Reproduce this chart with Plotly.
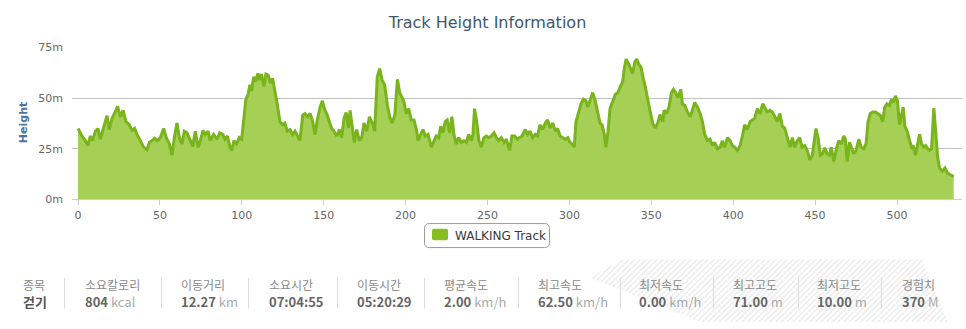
import plotly.graph_objects as go

W, H = 966, 329

# ---- elevation profile (track position vs. height in metres) ----
track_x = [
    0, 2.4, 4.5, 6.1, 7.5, 9, 10.6, 12.2, 13.6, 15.7, 17.7, 19.1, 20.8, 22.2, 24.2, 25.8,
    27.5, 29.3, 31.3, 33, 34.6, 36, 38, 40.1, 42.1, 43.6, 45.2, 46.8, 48.4, 50.3, 52.3,
    53.9, 55.8, 57.4, 58.8, 60.4, 61.9, 63.5, 64.9, 66.5, 68.6, 70, 71.6, 73.3, 74.7,
    76.3, 77.7, 79.4, 80.8, 82.8, 84.9, 86.5,
    88.3, 89.7, 91.2, 92.8, 93.8, 95.2, 96.8, 98.5, 99.9, 101.3, 102.5, 103.9, 104.9,
    105.9, 107.3, 108.5, 109.8, 111, 112, 113.5, 114.7, 116.1, 117.5, 118.8, 120.2,
    121.6, 123.3, 124.9, 126.3, 127.8, 129.4, 131, 132.5, 133.9, 135.5, 137.2, 138.6,
    140, 141.7, 143.3, 144.7, 146.1, 147.8, 149.2, 150.4, 151.8, 153.5, 154.9, 156.3,
    158, 159.6, 161, 162.4, 163.7, 165.1, 166.1, 167.5, 168.7, 170.1, 171.8, 173.2,
    174.6, 176.3, 177.9,
    180.1, 181.1, 182.7, 184.2, 185.6, 187.2, 188.9, 190.3, 191.7, 193.4, 195, 196.4,
    197.4, 198.8, 200.4, 201.9, 203.5, 205.1, 206.6, 207.6, 209.2, 210.6, 212, 213.7,
    215.7, 217.3, 218.7, 220.2, 221.4, 222.8, 224.2, 225.4, 226.9, 228.3, 229.5, 230.9,
    232.4, 234, 235.6, 237.1, 238.5, 240.1, 241.1, 242.1, 243.4, 244.8, 246.2, 247.8,
    249.3, 250.7, 252.4, 254, 255.4, 256.8, 258.4, 260.1, 261.5, 263.5, 264.9, 266.6,
    268.2,
    269.4, 271.1, 273.1, 274.5, 275.9, 277.6, 279.2, 280.6, 282, 283.7, 285.3, 286.7,
    288.2, 289.8, 291.4, 292.8, 294.3, 295.9, 297.5, 299, 300.4, 301.6, 303, 304, 305.7,
    307.1, 308.5, 310.1, 311.2, 312.6, 314.2, 315.8, 317.3, 318.7, 319.9, 321.3, 322.3,
    323.6, 324.8, 326.4, 328.1, 329.5, 330.9, 332.5, 333.5, 334.6, 336.2, 337.6, 338.6,
    339.9, 341.1, 342.3, 343.7, 345.1, 346.3, 347.8, 349.2, 350.8, 352.5, 353.9, 355.3,
    357,
    357.8, 359.4, 360.8, 362.3, 363.5, 364.9, 366.3, 368, 369, 370.4, 372.1, 373.7,
    375.1, 376.5, 378.2, 379.8, 381.2, 382.6, 384.3, 385.9, 387.3, 388.7, 390.4, 392,
    393.4, 394.8, 396.5, 398.1, 399.5, 400.9, 402.6, 404.2, 405.6, 407, 408.6, 410.3,
    411.7, 413.1, 414.7, 416.4, 418, 419.4, 420.8, 422.5, 423.9, 425.5, 426.9, 428.5,
    430, 431.4, 433, 434.7, 436.1, 437.5, 439.1, 440.6, 442, 443.6, 445.2, 446.8, 448.3,
    449.7, 450.5, 451.8, 453.2, 454.6, 455.9, 457.3, 458.7, 459.9, 461.4, 462.8, 464.4,
    466.1, 467.5, 468.5, 469.6, 471, 472.2, 473.6, 475, 476.7, 478.1, 479.7, 481.1,
    482.3, 483.7, 485.2, 486.8, 488.4, 489.8, 491.3, 492.5, 493.9, 495.4, 496.6, 497.8,
    499, 500.3, 501.5, 502.7, 503.8, 504.8, 506.2, 507.7, 508.9, 509.9, 511.3, 512.6,
    513.8, 515, 516.3, 517.5, 518.7, 519.9, 521.1, 521.9, 522.5, 523.6, 524.8, 526,
    527.7, 529.3, 530.7, 532.2, 533.8, 534.6,
]
track_height = [
    35, 31.3, 29, 26.6, 31.3, 29, 33.7, 35, 29.7, 35.3, 41.3, 34.5, 40, 42.4, 46, 40.8,
    44, 38.4, 36.9, 34, 35, 32.1, 29, 25.8, 24.5, 28.2, 29, 30.2, 29, 30.5, 35,
    30.5, 27.4, 21.8, 30.5, 37.7, 30.5, 27.4, 33.7, 32.9, 29, 26.1, 33.7, 25.8, 29,
    34, 32.1, 33.7, 29, 32.1, 29.7, 32.9,
    32.1, 29.7, 31.3, 25.8, 24.2, 29, 27.4, 30.5, 29.7, 41.6, 49.5, 51.9, 56.6,
    53.5, 60.6, 58.2, 62.2, 59, 61.9, 55.9, 61.9, 61.4, 57.4, 59.8, 54.3,
    47.2, 38.4, 36.9, 37.7, 33.7, 34.5, 32.1, 33.7, 31.3, 29, 41.6, 42.4,
    40.8, 42.4, 38.4, 32.1, 39.2, 45.6, 48.7, 44.8, 42.4, 38.4, 35, 33.7,
    31.3, 34.5, 30.5, 40, 42.9, 35.3, 44, 35.3, 28.2, 34.5, 29, 30.5,
    37.7, 33.7, 40.8,
    36.9, 33.7, 60.6, 64.6, 59, 56.6, 46.4, 40.8, 37.7, 41.6, 59.3, 52.7,
    51.1, 48.7, 42.4, 44.8, 39.2, 39.2, 34.5, 29, 32.1, 34.5, 31.3, 32.1,
    25.8, 29, 31.3, 30.5, 36.1, 32.9, 38.4, 39.2, 32.9, 40.8, 32.1, 27.4,
    30.5, 28.2, 29, 28.2, 32.1, 29, 32.1, 44.8, 38.4, 29, 25.8, 30.5,
    31.3, 30.5, 31.3, 32.9, 30.5, 29, 30.5, 28.2, 29.7, 24.2, 31.3, 31.3,
    29.7,
    30.5, 31.3, 34.5, 32.1, 33.7, 30.5, 32.1, 31.3, 36.9, 34.5, 37.7, 39.2,
    35.3, 37.7, 33.7, 35, 31.3, 30.5, 29.7, 30.5, 28.2, 27.4, 25.8, 38.4, 43.2,
    47.2, 49.5, 48.7, 45.6, 49.5, 52.7, 48.7, 43.2, 37.7, 36.9, 32.1, 25.8,
    33.7, 44.8, 48.7, 51.9, 52.7, 55.1, 58.2, 64.6, 69.3, 66.9, 64.6, 62.2,
    67.7, 69.3, 66.9, 65.3, 59.8, 55.9, 49.5, 44, 37.7, 35.3, 37.7, 41.9,
    38.4,
    44, 42.4, 45.6, 52.7, 54.3, 52.7, 50.3, 54.3, 47.2, 46.4, 43.2, 40.8,
    44, 47.9, 45.6, 42.4, 38.4, 32.1, 29, 29.7, 26.6, 28.2, 25, 25.8,
    29, 25.8, 30.5, 29, 26.6, 25.8, 24.2, 26.6, 31.3, 36.9, 34.5, 38.4,
    39.2, 40, 44.8, 42.4, 47.2, 44.8, 43.2, 44, 43.2, 40.8, 38.4, 42.4,
    36.1, 35.3, 30.5, 25.8, 30.5, 25.8, 29, 30.5, 25.8, 26.6, 24.2, 19.5, 21.8,
    29, 35, 30.5, 21.8, 22.6, 25.5, 22.6, 21.8, 25.8, 18.7, 24.2, 29,
    27.4, 31.3, 29.7, 18.7, 28.2, 25.8, 22.6, 24.2, 29.7, 25.8, 25, 27.4,
    38.4, 42.4, 43.2, 43.2, 42.4, 41.6, 38.4, 45.6, 47.2, 46.4, 49.5, 47.9,
    51.1, 48.7, 36.9, 40.8, 45.6, 36.1, 33.7, 29, 25.8, 26.6, 21.8, 27.4,
    32.1, 27.4, 25.8, 26.6, 25, 24.2, 25, 36.9, 45.1, 33.7, 21, 15.5,
    13.9, 15.5, 13.1, 12.3, 11.6, 11.2,
]

series_name = "WALKING Track"
chart_title = "Track Height Information"
y_axis_title = "Height"
y_ticks = [0, 25, 50, 75]
y_tick_text = ["0m", "25m", "50m", "75m"]
x_ticks = [0, 50, 100, 150, 200, 250, 300, 350, 400, 450, 500]

# ---- activity summary table ----
stat_labels = ["종목", "소요칼로리", "이동거리", "소요시간", "이동시간", "평균속도",
               "최고속도", "최저속도", "최고고도", "최저고도", "경험치"]
stat_numbers = ["걷기", "804", "12.27", "07:04:55", "05:20:29", "2.00",
                "62.50", "0.00", "71.00", "10.00", "370"]
stat_units = ["", "kcal", "km", "", "", "km/h", "km/h", "km/h", "m", "m", "M"]

# layout helpers (pixel positions on the 966x329 canvas)
column_left = [21, 83, 179, 267, 355, 442, 536, 637, 731, 815, 900]
separator_x = [64, 161, 248, 337, 424, 518, 620, 713, 798, 881]

PLOT_L, PLOT_R, PLOT_T, PLOT_B = 72, 962, 43.3, 201.3
X0_PX, X_SCALE = 78, 1.638

LINE_GREEN = "#79B41C"
FILL_GREEN = "#A5CF55"
TICK_FONT = dict(family="DejaVu Sans", size=11, color="#666666")
KR_FONT = "Noto Sans CJK KR"

fig = go.Figure()

# decorative hatched band behind the right part of the summary table
fig.add_trace(go.Scatter(
    x=[623, 922, 948, 700, 590, 623],
    y=[264, 264, 329, 329, 283, 264],
    mode="lines", fill="toself", line=dict(width=0),
    fillcolor="rgba(0,0,0,0)",
    fillpattern=dict(shape="/", size=4, solidity=0.3, fgcolor="#cfcfcf", bgcolor="rgba(255,255,255,0)"),
    xaxis="x2", yaxis="y2", hoverinfo="skip", showlegend=False,
))

fig.add_trace(go.Scatter(
    x=track_x, y=track_height, name=series_name,
    mode="lines", line=dict(color=LINE_GREEN, width=3),
    fill="tozeroy", fillcolor=FILL_GREEN,
    xaxis="x", yaxis="y", showlegend=False,
))

shapes = []
# legend box with rounded corners
lx0, ly0, lx1, ly1, r = 424.5, 226.5, 549.5, 251.5, 5
shapes.append(dict(
    type="path", xref="x2", yref="y2",
    path=(f"M {lx0+r},{ly0} H {lx1-r} Q {lx1},{ly0} {lx1},{ly0+r} V {ly1-r} "
          f"Q {lx1},{ly1} {lx1-r},{ly1} H {lx0+r} Q {lx0},{ly1} {lx0},{ly1-r} "
          f"V {ly0+r} Q {lx0},{ly0} {lx0+r},{ly0} Z"),
    line=dict(color="#9a9a9a", width=1), fillcolor="white", layer="below",
))
sx0, sy0, sx1, sy1, sr = 432, 232, 448, 244, 2
shapes.append(dict(
    type="path", xref="x2", yref="y2",
    path=(f"M {sx0+sr},{sy0} H {sx1-sr} Q {sx1},{sy0} {sx1},{sy0+sr} V {sy1-sr} "
          f"Q {sx1},{sy1} {sx1-sr},{sy1} H {sx0+sr} Q {sx0},{sy1} {sx0},{sy1-sr} "
          f"V {sy0+sr} Q {sx0},{sy0} {sx0+sr},{sy0} Z"),
    line=dict(width=0), fillcolor="#88BE22",
))
for sx in separator_x:
    shapes.append(dict(type="line", xref="x2", yref="y2", x0=sx + 0.5, x1=sx + 0.5,
                       y0=283, y1=315, line=dict(color="#dddddd", width=1)))

annotations = [
    dict(text=y_axis_title, xref="x2", yref="y2", x=23, y=122, textangle=-90,
         showarrow=False, xanchor="center", yanchor="middle",
         font=dict(family="DejaVu Sans", size=11, color="#4D759E", weight="bold")),
    dict(text=series_name, xref="x2", yref="y2", x=453, y=239.5, showarrow=False,
         xanchor="left", yanchor="middle",
         font=dict(family="DejaVu Sans", size=12, color="#3a3a3a")),
]
for i, label in enumerate(stat_labels):
    annotations.append(dict(
        text=label, xref="x2", yref="y2", x=column_left[i], y=289.5,
        showarrow=False, xanchor="left", yanchor="middle",
        font=dict(family=KR_FONT, size=12, color="#8a8a8a"),
    ))
    value = f"<b>{stat_numbers[i]}</b>"
    if stat_units[i]:
        value += f" <span style='color:#aaaaaa'>{stat_units[i]}</span>"
    annotations.append(dict(
        text=value, xref="x2", yref="y2", x=column_left[i], y=308,
        showarrow=False, xanchor="left", yanchor="middle",
        font=dict(family=KR_FONT, size=13, color="#555555" if i == 0 else "#666666"),
    ))

x_lo = (PLOT_L - X0_PX) / X_SCALE
x_hi = (PLOT_R - X0_PX) / X_SCALE

fig.update_layout(
    width=W, height=H,
    margin=dict(l=0, r=0, t=0, b=0),
    paper_bgcolor="white", plot_bgcolor="rgba(0,0,0,0)",
    showlegend=False,
    title=dict(text=chart_title, x=487.5 / W, y=1 - 17 / H, xanchor="center", yanchor="middle",
               xref="paper", yref="paper",
               font=dict(family="DejaVu Sans", size=16, color="#3E576F")),
    xaxis=dict(domain=[PLOT_L / W, PLOT_R / W], range=[x_lo, x_hi],
               tickvals=x_ticks, ticks="outside", ticklen=5, tickcolor="#C0D0E0",
               showline=True, linecolor="#C0D0E0", linewidth=1,
               showgrid=False, zeroline=False, tickfont=TICK_FONT, anchor="y"),
    yaxis=dict(domain=[(H - PLOT_B) / H, (H - PLOT_T) / H], range=[0, 75],
               tickvals=y_ticks, ticktext=y_tick_text, ticks="",
               showgrid=True, gridcolor="#C0C0C0", gridwidth=1, zeroline=False,
               showline=False, tickfont=TICK_FONT, ticklabelstandoff=8, anchor="x"),
    xaxis2=dict(domain=[0, 1], range=[0, W], visible=False, anchor="y2"),
    yaxis2=dict(domain=[0, 1], range=[H, 0], visible=False, anchor="x2"),
    shapes=shapes,
    annotations=annotations,
)

fig.write_html("out.html")
